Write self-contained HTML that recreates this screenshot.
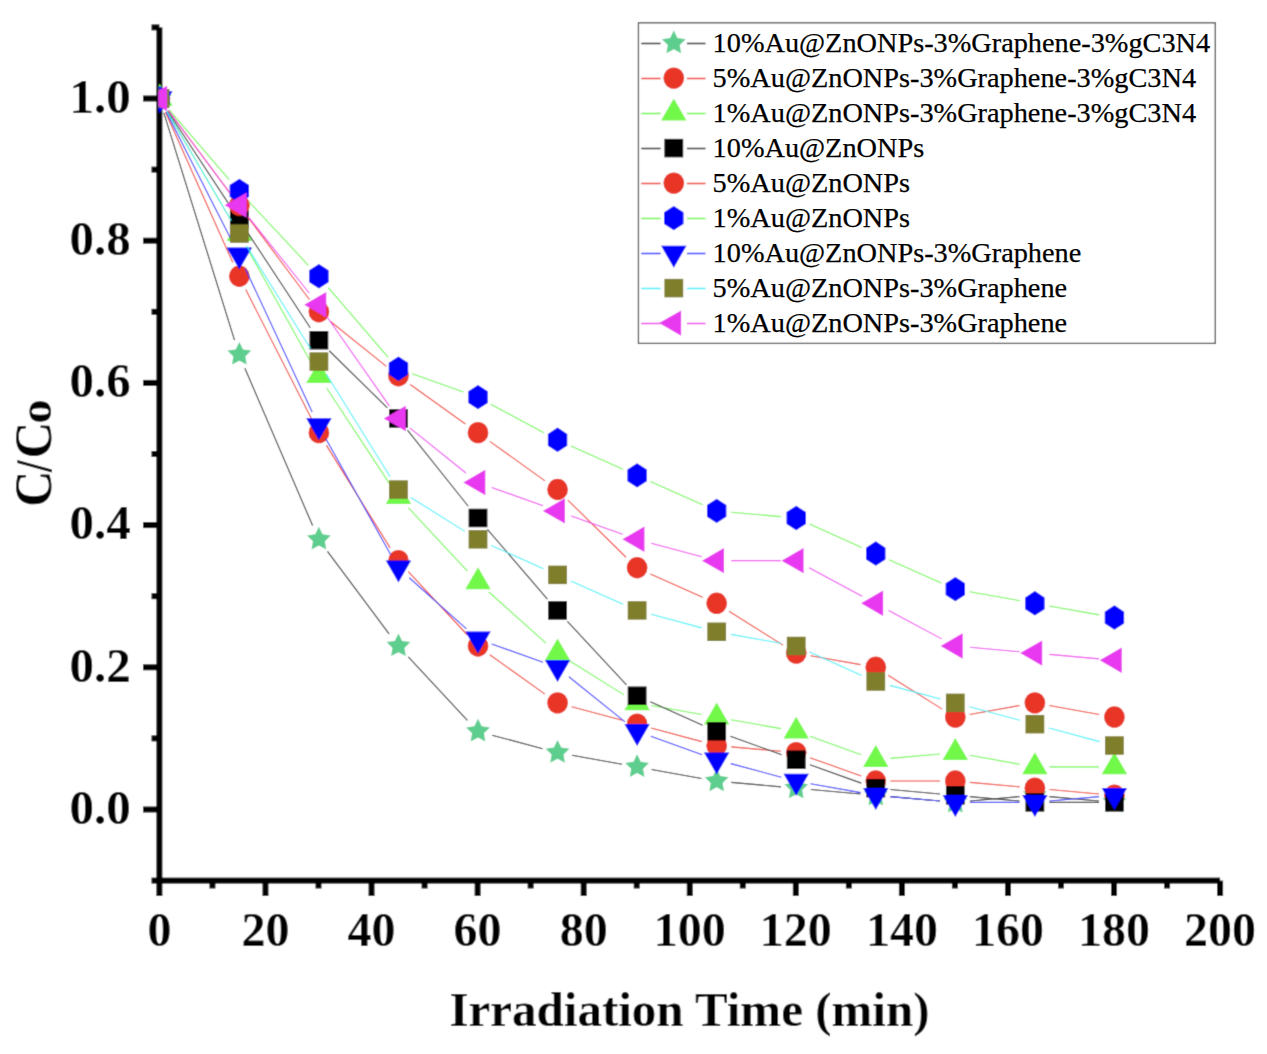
<!DOCTYPE html>
<html><head><meta charset="utf-8"><style>html,body{margin:0;padding:0;background:#fff;width:1267px;height:1054px;overflow:hidden}svg{display:block}</style></head>
<body>
<svg width="1267" height="1054" viewBox="0 0 1267 1054">
<defs><filter id="bl" x="0" y="0" width="1267" height="1054" filterUnits="userSpaceOnUse"><feConvolveMatrix order="3" kernelMatrix="0.0225 0.1050 0.0225 0.1050 0.4900 0.1050 0.0225 0.1050 0.0225" edgeMode="duplicate"/></filter></defs>
<g filter="url(#bl)"><rect width="1267" height="1054" fill="#fff"/>
<g fill="#000">
<rect x="156.4" y="27.4" width="6" height="856.2"/>
<rect x="151.5" y="877.6" width="1068.6" height="6"/>
<rect x="143" y="806.5" width="16.4" height="6"/>
<rect x="143" y="664.3" width="16.4" height="6"/>
<rect x="143" y="522.1" width="16.4" height="6"/>
<rect x="143" y="379.9" width="16.4" height="6"/>
<rect x="143" y="237.7" width="16.4" height="6"/>
<rect x="143" y="95.5" width="16.4" height="6"/>
<rect x="151.5" y="735.4" width="7.9" height="6"/>
<rect x="151.5" y="593.2" width="7.9" height="6"/>
<rect x="151.5" y="451" width="7.9" height="6"/>
<rect x="151.5" y="308.8" width="7.9" height="6"/>
<rect x="151.5" y="166.6" width="7.9" height="6"/>
<rect x="151.5" y="24.4" width="7.9" height="6"/>
<rect x="156.4" y="880.6" width="6" height="15.4"/>
<rect x="262.47" y="880.6" width="6" height="15.4"/>
<rect x="368.54" y="880.6" width="6" height="15.4"/>
<rect x="474.61" y="880.6" width="6" height="15.4"/>
<rect x="580.68" y="880.6" width="6" height="15.4"/>
<rect x="686.75" y="880.6" width="6" height="15.4"/>
<rect x="792.82" y="880.6" width="6" height="15.4"/>
<rect x="898.89" y="880.6" width="6" height="15.4"/>
<rect x="1004.96" y="880.6" width="6" height="15.4"/>
<rect x="1111.03" y="880.6" width="6" height="15.4"/>
<rect x="1217.1" y="880.6" width="6" height="15.4"/>
<rect x="209.44" y="880.6" width="6" height="7.9"/>
<rect x="315.5" y="880.6" width="6" height="7.9"/>
<rect x="421.57" y="880.6" width="6" height="7.9"/>
<rect x="527.64" y="880.6" width="6" height="7.9"/>
<rect x="633.71" y="880.6" width="6" height="7.9"/>
<rect x="739.78" y="880.6" width="6" height="7.9"/>
<rect x="845.85" y="880.6" width="6" height="7.9"/>
<rect x="951.92" y="880.6" width="6" height="7.9"/>
<rect x="1057.99" y="880.6" width="6" height="7.9"/>
<rect x="1164.07" y="880.6" width="6" height="7.9"/>
</g>
<clipPath id="pc"><rect x="158.4" y="0" width="1100" height="877"/></clipPath>
<g clip-path="url(#pc)">
<path d="M163.85 112.82L234.5 340.14M244.88 368.24L312.58 525.54M327.47 551.34L389.09 633.95M408.29 656.94L467.38 720.32M492.1 735.17L542.67 748.74M571.93 755.26L621.95 764.2M651.48 769.48L701.5 778.42M731.21 782.4L780.88 786.83M810.76 789.51L860.43 793.94M890.31 796.62L939.98 801.05M969.87 801.05L1019.54 796.62M1049.42 796.62L1099.09 801.05" stroke="#2a2a2a" stroke-width="1.1" fill="none"/>
<polygon points="159.8,86 163.47,93.44 171.69,94.64 165.74,100.43 167.15,108.61 159.8,104.75 152.45,108.61 153.86,100.43 147.91,94.64 156.13,93.44" fill="#5DCE8E"/>
<polygon points="239.35,341.96 243.03,349.4 251.24,350.6 245.3,356.39 246.7,364.57 239.35,360.71 232.01,364.57 233.41,356.39 227.46,350.6 235.68,349.4" fill="#5DCE8E"/>
<polygon points="318.9,526.82 322.58,534.26 330.79,535.46 324.85,541.25 326.25,549.43 318.9,545.57 311.56,549.43 312.96,541.25 307.02,535.46 315.23,534.26" fill="#5DCE8E"/>
<polygon points="398.46,633.47 402.13,640.91 410.35,642.11 404.4,647.9 405.8,656.08 398.46,652.22 391.11,656.08 392.51,647.9 386.57,642.11 394.78,640.91" fill="#5DCE8E"/>
<polygon points="478.01,718.79 481.68,726.23 489.9,727.43 483.95,733.22 485.36,741.4 478.01,737.54 470.66,741.4 472.07,733.22 466.12,727.43 474.34,726.23" fill="#5DCE8E"/>
<polygon points="557.56,740.12 561.24,747.56 569.45,748.76 563.51,754.55 564.91,762.73 557.56,758.87 550.22,762.73 551.62,754.55 545.67,748.76 553.89,747.56" fill="#5DCE8E"/>
<polygon points="637.11,754.34 640.79,761.78 649,762.98 643.06,768.77 644.46,776.95 637.11,773.09 629.77,776.95 631.17,768.77 625.23,762.98 633.44,761.78" fill="#5DCE8E"/>
<polygon points="716.67,768.56 720.34,776 728.56,777.2 722.61,782.99 724.01,791.17 716.67,787.31 709.32,791.17 710.72,782.99 704.78,777.2 712.99,776" fill="#5DCE8E"/>
<polygon points="796.22,775.67 799.89,783.11 808.11,784.31 802.16,790.1 803.57,798.28 796.22,794.42 788.87,798.28 790.28,790.1 784.33,784.31 792.55,783.11" fill="#5DCE8E"/>
<polygon points="875.77,782.78 879.45,790.22 887.66,791.42 881.72,797.21 883.12,805.39 875.77,801.53 868.43,805.39 869.83,797.21 863.88,791.42 872.1,790.22" fill="#5DCE8E"/>
<polygon points="955.32,789.89 959,797.33 967.21,798.53 961.27,804.32 962.67,812.5 955.32,808.64 947.98,812.5 949.38,804.32 943.44,798.53 951.65,797.33" fill="#5DCE8E"/>
<polygon points="1034.88,782.78 1038.55,790.22 1046.77,791.42 1040.82,797.21 1042.22,805.39 1034.88,801.53 1027.53,805.39 1028.93,797.21 1022.99,791.42 1031.2,790.22" fill="#5DCE8E"/>
<polygon points="1114.43,789.89 1118.1,797.33 1126.32,798.53 1120.37,804.32 1121.78,812.5 1114.43,808.64 1107.08,812.5 1108.49,804.32 1102.54,798.53 1110.76,797.33" fill="#5DCE8E"/>
<path d="M165.53 112.19L232.82 262.56M245.75 289.62L311.71 419.3M326.42 445.41L390.14 547.91M408.29 571.62L467.38 635M489.81 654.69L544.96 694.13M571.65 706.73L622.23 720.3M651.2 728.06L701.78 741.63M731.21 746.85L780.88 751.28M809.94 757.67L861.25 776.01M890.37 781.06L939.92 781.06M969.87 782.4L1019.54 786.83M1049.42 789.51L1099.09 793.94" stroke="#F03A2C" stroke-width="1.1" fill="none"/>
<ellipse cx="159.8" cy="98.5" rx="10.4" ry="10.7" fill="#E83428"/>
<ellipse cx="239.35" cy="276.25" rx="10.4" ry="10.7" fill="#E83428"/>
<ellipse cx="318.9" cy="432.67" rx="10.4" ry="10.7" fill="#E83428"/>
<ellipse cx="398.46" cy="560.65" rx="10.4" ry="10.7" fill="#E83428"/>
<ellipse cx="478.01" cy="645.97" rx="10.4" ry="10.7" fill="#E83428"/>
<ellipse cx="557.56" cy="702.85" rx="10.4" ry="10.7" fill="#E83428"/>
<ellipse cx="637.11" cy="724.18" rx="10.4" ry="10.7" fill="#E83428"/>
<ellipse cx="716.67" cy="745.51" rx="10.4" ry="10.7" fill="#E83428"/>
<ellipse cx="796.22" cy="752.62" rx="10.4" ry="10.7" fill="#E83428"/>
<ellipse cx="875.77" cy="781.06" rx="10.4" ry="10.7" fill="#E83428"/>
<ellipse cx="955.32" cy="781.06" rx="10.4" ry="10.7" fill="#E83428"/>
<ellipse cx="1034.88" cy="788.17" rx="10.4" ry="10.7" fill="#E83428"/>
<ellipse cx="1114.43" cy="795.28" rx="10.4" ry="10.7" fill="#E83428"/>
<path d="M167.01 111.43L231.34 220.66M246.28 246.68L311.18 362.7M326.75 388.32L389.81 484.13M408.29 507.63L467.38 571.01M488.79 591.98L545.98 643.08M569.88 661.04L624 694.89M651.48 705.49L701.5 714.43M731.03 719.71L781.05 728.65M809.94 736.34L861.25 754.68M890.31 758.39L939.98 753.96M969.69 755.26L1019.71 764.2M1049.48 766.84L1099.03 766.84" stroke="#6CF84C" stroke-width="1.1" fill="none"/>
<polygon points="159.8,83.84 172.5,105.83 147.1,105.83" fill="#72F84A"/>
<polygon points="239.35,218.93 252.05,240.92 226.65,240.92" fill="#72F84A"/>
<polygon points="318.9,361.13 331.6,383.12 306.2,383.12" fill="#72F84A"/>
<polygon points="398.46,482 411.16,503.99 385.76,503.99" fill="#72F84A"/>
<polygon points="478.01,567.32 490.71,589.31 465.31,589.31" fill="#72F84A"/>
<polygon points="557.56,638.42 570.26,660.41 544.86,660.41" fill="#72F84A"/>
<polygon points="637.11,688.19 649.81,710.18 624.41,710.18" fill="#72F84A"/>
<polygon points="716.67,702.41 729.37,724.4 703.97,724.4" fill="#72F84A"/>
<polygon points="796.22,716.63 808.92,738.62 783.52,738.62" fill="#72F84A"/>
<polygon points="875.77,745.07 888.47,767.06 863.07,767.06" fill="#72F84A"/>
<polygon points="955.32,737.96 968.02,759.95 942.62,759.95" fill="#72F84A"/>
<polygon points="1034.88,752.18 1047.58,774.17 1022.18,774.17" fill="#72F84A"/>
<polygon points="1114.43,752.18 1127.13,774.17 1101.73,774.17" fill="#72F84A"/>
<path d="M167.65 111.03L230.71 206.84M247.2 231.9L310.26 327.71M329.2 350.76L387.36 407.93M407.42 430.17L468.25 506.27M487.4 529.36L547.38 599.05M567.39 621.39L626.49 684.77M650.41 701.86L702.57 725.17M730.39 736.34L781.7 754.68M809.94 764.78L861.25 783.12M890.31 789.51L939.98 793.94M969.87 796.62L1019.54 801.05M1049.48 802.39L1099.03 802.39" stroke="#2a2a2a" stroke-width="1.1" fill="none"/>
<rect x="150.4" y="89.25" width="18.8" height="18.5" fill="#000000"/>
<rect x="229.95" y="210.12" width="18.8" height="18.5" fill="#000000"/>
<rect x="309.5" y="330.99" width="18.8" height="18.5" fill="#000000"/>
<rect x="389.06" y="409.2" width="18.8" height="18.5" fill="#000000"/>
<rect x="468.61" y="508.74" width="18.8" height="18.5" fill="#000000"/>
<rect x="548.16" y="601.17" width="18.8" height="18.5" fill="#000000"/>
<rect x="627.71" y="686.49" width="18.8" height="18.5" fill="#000000"/>
<rect x="707.27" y="722.04" width="18.8" height="18.5" fill="#000000"/>
<rect x="786.82" y="750.48" width="18.8" height="18.5" fill="#000000"/>
<rect x="866.37" y="778.92" width="18.8" height="18.5" fill="#000000"/>
<rect x="945.92" y="786.03" width="18.8" height="18.5" fill="#000000"/>
<rect x="1025.48" y="793.14" width="18.8" height="18.5" fill="#000000"/>
<rect x="1105.03" y="793.14" width="18.8" height="18.5" fill="#000000"/>
<path d="M168.37 110.52L229.98 193.13M247.92 217.17L309.54 299.78M330.19 321.2L386.37 366.39M410.26 384.51L465.41 423.95M489.81 441.39L544.96 480.83M567.86 500.07L626.02 557.24M650.41 573.88L702.57 597.19M728.98 611.27L783.1 645.12M810.59 655.72L860.61 664.66M888.09 675.26L942.21 709.11M969.69 714.43L1019.71 705.49M1049.24 705.49L1099.26 714.43" stroke="#F03A2C" stroke-width="1.1" fill="none"/>
<ellipse cx="159.8" cy="98.5" rx="10.4" ry="10.7" fill="#E83428"/>
<ellipse cx="239.35" cy="205.15" rx="10.4" ry="10.7" fill="#E83428"/>
<ellipse cx="318.9" cy="311.8" rx="10.4" ry="10.7" fill="#E83428"/>
<ellipse cx="398.46" cy="375.79" rx="10.4" ry="10.7" fill="#E83428"/>
<ellipse cx="478.01" cy="432.67" rx="10.4" ry="10.7" fill="#E83428"/>
<ellipse cx="557.56" cy="489.55" rx="10.4" ry="10.7" fill="#E83428"/>
<ellipse cx="637.11" cy="567.76" rx="10.4" ry="10.7" fill="#E83428"/>
<ellipse cx="716.67" cy="603.31" rx="10.4" ry="10.7" fill="#E83428"/>
<ellipse cx="796.22" cy="653.08" rx="10.4" ry="10.7" fill="#E83428"/>
<ellipse cx="875.77" cy="667.3" rx="10.4" ry="10.7" fill="#E83428"/>
<ellipse cx="955.32" cy="717.07" rx="10.4" ry="10.7" fill="#E83428"/>
<ellipse cx="1034.88" cy="702.85" rx="10.4" ry="10.7" fill="#E83428"/>
<ellipse cx="1114.43" cy="717.07" rx="10.4" ry="10.7" fill="#E83428"/>
<path d="M169.19 109.87L229.17 179.56M249.18 201.9L308.28 265.28M328.29 287.62L388.27 357.31M412.18 373.73L463.49 392.07M490.83 404.21L543.94 432.69M570.86 445.9L623.02 469.21M650.41 481.45L702.57 504.76M731.21 512.22L780.88 516.65M809.51 524.11L861.68 547.42M889.07 559.66L941.23 582.97M969.69 591.73L1019.71 600.67M1049.24 605.95L1099.26 614.89" stroke="#6CF84C" stroke-width="1.1" fill="none"/>
<polygon points="159.8,86.3 169.5,92.6 169.5,104.4 159.8,110.7 150.1,104.4 150.1,92.6" fill="#0000FF"/>
<polygon points="239.35,178.73 249.05,185.03 249.05,196.83 239.35,203.13 229.65,196.83 229.65,185.03" fill="#0000FF"/>
<polygon points="318.9,264.05 328.6,270.35 328.6,282.15 318.9,288.45 309.2,282.15 309.2,270.35" fill="#0000FF"/>
<polygon points="398.46,356.48 408.16,362.78 408.16,374.58 398.46,380.88 388.76,374.58 388.76,362.78" fill="#0000FF"/>
<polygon points="478.01,384.92 487.71,391.22 487.71,403.02 478.01,409.32 468.31,403.02 468.31,391.22" fill="#0000FF"/>
<polygon points="557.56,427.58 567.26,433.88 567.26,445.68 557.56,451.98 547.86,445.68 547.86,433.88" fill="#0000FF"/>
<polygon points="637.11,463.13 646.81,469.43 646.81,481.23 637.11,487.53 627.41,481.23 627.41,469.43" fill="#0000FF"/>
<polygon points="716.67,498.68 726.37,504.98 726.37,516.78 716.67,523.08 706.97,516.78 706.97,504.98" fill="#0000FF"/>
<polygon points="796.22,505.79 805.92,512.09 805.92,523.89 796.22,530.19 786.52,523.89 786.52,512.09" fill="#0000FF"/>
<polygon points="875.77,541.34 885.47,547.64 885.47,559.44 875.77,565.74 866.07,559.44 866.07,547.64" fill="#0000FF"/>
<polygon points="955.32,576.89 965.02,583.19 965.02,594.99 955.32,601.29 945.62,594.99 945.62,583.19" fill="#0000FF"/>
<polygon points="1034.88,591.11 1044.58,597.41 1044.58,609.21 1034.88,615.51 1025.18,609.21 1025.18,597.41" fill="#0000FF"/>
<polygon points="1114.43,605.33 1124.13,611.63 1124.13,623.43 1114.43,629.73 1104.73,623.43 1104.73,611.63" fill="#0000FF"/>
<path d="M166.2 111.87L232.15 241.55M245.29 268.52L312.17 411.96M325.83 438.65L390.73 554.67M409.24 577.76L466.43 628.86M491.73 643.91L543.04 662.25M568.85 676.7L625.03 721.89M650.84 736.34L702.14 754.68M730.76 763.61L781.33 777.18M810.59 783.7L860.61 792.64M890.31 796.62L939.98 801.05M969.92 802.39L1019.48 802.39M1049.42 801.05L1099.09 796.62" stroke="#3030FF" stroke-width="1.1" fill="none"/>
<polygon points="159.8,113.16 147.1,91.17 172.5,91.17" fill="#0000FF"/>
<polygon points="239.35,269.58 226.65,247.59 252.05,247.59" fill="#0000FF"/>
<polygon points="318.9,440.22 306.2,418.23 331.6,418.23" fill="#0000FF"/>
<polygon points="398.46,582.42 385.76,560.43 411.16,560.43" fill="#0000FF"/>
<polygon points="478.01,653.52 465.31,631.53 490.71,631.53" fill="#0000FF"/>
<polygon points="557.56,681.96 544.86,659.97 570.26,659.97" fill="#0000FF"/>
<polygon points="637.11,745.95 624.41,723.96 649.81,723.96" fill="#0000FF"/>
<polygon points="716.67,774.39 703.97,752.4 729.37,752.4" fill="#0000FF"/>
<polygon points="796.22,795.72 783.52,773.73 808.92,773.73" fill="#0000FF"/>
<polygon points="875.77,809.94 863.07,787.95 888.47,787.95" fill="#0000FF"/>
<polygon points="955.32,817.05 942.62,795.06 968.02,795.06" fill="#0000FF"/>
<polygon points="1034.88,817.05 1022.18,795.06 1047.58,795.06" fill="#0000FF"/>
<polygon points="1114.43,809.94 1101.73,787.95 1127.13,787.95" fill="#0000FF"/>
<path d="M167.01 111.43L231.34 220.66M246.87 246.33L310.59 348.83M326.42 374.31L390.14 476.81M410.77 497.51L464.89 531.36M491.3 545.44L543.47 568.75M570.86 580.99L623.02 604.3M651.2 614.3L701.78 627.87M731.03 634.39L781.05 643.33M809.51 652.09L861.68 675.4M889.86 685.4L940.44 698.97M969.41 706.73L1019.99 720.3M1048.97 728.06L1099.54 741.63" stroke="#40F0FA" stroke-width="1.1" fill="none"/>
<rect x="150.4" y="89.25" width="18.8" height="18.5" fill="#7F7E2B"/>
<rect x="229.95" y="224.34" width="18.8" height="18.5" fill="#7F7E2B"/>
<rect x="309.5" y="352.32" width="18.8" height="18.5" fill="#7F7E2B"/>
<rect x="389.06" y="480.3" width="18.8" height="18.5" fill="#7F7E2B"/>
<rect x="468.61" y="530.07" width="18.8" height="18.5" fill="#7F7E2B"/>
<rect x="548.16" y="565.62" width="18.8" height="18.5" fill="#7F7E2B"/>
<rect x="627.71" y="601.17" width="18.8" height="18.5" fill="#7F7E2B"/>
<rect x="707.27" y="622.5" width="18.8" height="18.5" fill="#7F7E2B"/>
<rect x="786.82" y="636.72" width="18.8" height="18.5" fill="#7F7E2B"/>
<rect x="866.37" y="672.27" width="18.8" height="18.5" fill="#7F7E2B"/>
<rect x="945.92" y="693.6" width="18.8" height="18.5" fill="#7F7E2B"/>
<rect x="1025.48" y="714.93" width="18.8" height="18.5" fill="#7F7E2B"/>
<rect x="1105.03" y="736.26" width="18.8" height="18.5" fill="#7F7E2B"/>
<path d="M168.37 110.52L229.98 193.13M248.32 216.87L309.14 292.97M327.1 316.98L389.46 406.16M409.75 427.85L465.92 473.04M491.73 487.49L543.04 505.83M571.29 515.93L622.59 534.27M651.2 543.2L701.78 556.77M731.27 560.65L780.82 560.65M809.04 567.74L862.15 596.22M888.59 610.4L941.71 638.88M969.87 647.31L1019.54 651.74M1049.42 654.42L1099.09 658.85" stroke="#F040F0" stroke-width="1.1" fill="none"/>
<polygon points="145.14,98.5 167.13,85.8 167.13,111.2" fill="#E838F0"/>
<polygon points="224.69,205.15 246.68,192.45 246.68,217.85" fill="#E838F0"/>
<polygon points="304.24,304.69 326.24,291.99 326.24,317.39" fill="#E838F0"/>
<polygon points="383.79,418.45 405.79,405.75 405.79,431.15" fill="#E838F0"/>
<polygon points="463.35,482.44 485.34,469.74 485.34,495.14" fill="#E838F0"/>
<polygon points="542.9,510.88 564.89,498.18 564.89,523.58" fill="#E838F0"/>
<polygon points="622.45,539.32 644.45,526.62 644.45,552.02" fill="#E838F0"/>
<polygon points="702,560.65 724,547.95 724,573.35" fill="#E838F0"/>
<polygon points="781.56,560.65 803.55,547.95 803.55,573.35" fill="#E838F0"/>
<polygon points="861.11,603.31 883.1,590.61 883.1,616.01" fill="#E838F0"/>
<polygon points="940.66,645.97 962.66,633.27 962.66,658.67" fill="#E838F0"/>
<polygon points="1020.21,653.08 1042.21,640.38 1042.21,665.78" fill="#E838F0"/>
<polygon points="1099.77,660.19 1121.76,647.49 1121.76,672.89" fill="#E838F0"/>
</g>
<g font-family="Liberation Serif" font-weight="bold" font-size="48" fill="#000">
<text x="159.4" y="946" text-anchor="middle">0</text>
<text x="265.47" y="946" text-anchor="middle">20</text>
<text x="371.54" y="946" text-anchor="middle">40</text>
<text x="477.61" y="946" text-anchor="middle">60</text>
<text x="583.68" y="946" text-anchor="middle">80</text>
<text x="689.75" y="946" text-anchor="middle">100</text>
<text x="795.82" y="946" text-anchor="middle">120</text>
<text x="901.89" y="946" text-anchor="middle">140</text>
<text x="1007.96" y="946" text-anchor="middle">160</text>
<text x="1114.03" y="946" text-anchor="middle">180</text>
<text x="1220.1" y="946" text-anchor="middle">200</text>
<text x="130.8" y="823.7" text-anchor="end" font-size="49">0.0</text>
<text x="130.8" y="681.5" text-anchor="end" font-size="49">0.2</text>
<text x="130.8" y="539.3" text-anchor="end" font-size="49">0.4</text>
<text x="130.8" y="397.1" text-anchor="end" font-size="49">0.6</text>
<text x="130.8" y="254.9" text-anchor="end" font-size="49">0.8</text>
<text x="130.8" y="112.7" text-anchor="end" font-size="49">1.0</text>
</g>
<polygon points="17.3,459.9 51.9,469.5 51.9,472.5 17.3,462.9" fill="#000"/>
<text x="689.5" y="1026" text-anchor="middle" font-family="Liberation Serif" font-weight="bold" font-size="49">Irradiation Time (min)</text>
<g font-family="Liberation Serif" font-weight="bold" font-size="100">
<text transform="translate(51.3 506.7) rotate(-90) scale(0.5 0.52)">C</text>
<text transform="translate(51.3 458.4) rotate(-90) scale(0.51 0.52)">C</text>
<text transform="translate(51.3 423.6) rotate(-90) scale(0.48 0.47)">o</text>
</g>
<rect x="638.45" y="22.8" width="576.85" height="320.6" fill="#fff" stroke="#3c3c3c" stroke-width="1.25"/>
<path d="M641.3 43.5H660.6M686.9 43.5H705.5" stroke="#2a2a2a" stroke-width="1.35"/>
<polygon points="673.8,30.6 677.47,38.04 685.69,39.24 679.74,45.03 681.15,53.21 673.8,49.35 666.45,53.21 667.86,45.03 661.91,39.24 670.13,38.04" fill="#5DCE8E"/>
<path d="M641.3 78.5H660.6M686.9 78.5H705.5" stroke="#F03A2C" stroke-width="1.35"/>
<ellipse cx="673.8" cy="78.1" rx="10.4" ry="10.7" fill="#E83428"/>
<path d="M641.3 113.5H660.6M686.9 113.5H705.5" stroke="#6CF84C" stroke-width="1.35"/>
<polygon points="673.8,98.44 686.5,120.43 661.1,120.43" fill="#72F84A"/>
<path d="M641.3 148.5H660.6M686.9 148.5H705.5" stroke="#2a2a2a" stroke-width="1.35"/>
<rect x="664.4" y="138.85" width="18.8" height="18.5" fill="#000000"/>
<path d="M641.3 183.5H660.6M686.9 183.5H705.5" stroke="#F03A2C" stroke-width="1.35"/>
<ellipse cx="673.8" cy="183.1" rx="10.4" ry="10.7" fill="#E83428"/>
<path d="M641.3 218.5H660.6M686.9 218.5H705.5" stroke="#6CF84C" stroke-width="1.35"/>
<polygon points="673.8,205.9 683.5,212.2 683.5,224 673.8,230.3 664.1,224 664.1,212.2" fill="#0000FF"/>
<path d="M641.3 253.5H660.6M686.9 253.5H705.5" stroke="#3030FF" stroke-width="1.35"/>
<polygon points="673.8,267.76 661.1,245.77 686.5,245.77" fill="#0000FF"/>
<path d="M641.3 288.5H660.6M686.9 288.5H705.5" stroke="#40F0FA" stroke-width="1.35"/>
<rect x="664.4" y="278.85" width="18.8" height="18.5" fill="#7F7E2B"/>
<path d="M641.3 323.5H660.6M686.9 323.5H705.5" stroke="#F040F0" stroke-width="1.35"/>
<polygon points="659.14,323.1 681.13,310.4 681.13,335.8" fill="#E838F0"/>
</g>
<g font-family="Liberation Serif" font-size="28.3" fill="#000" stroke="#000" stroke-width="0.25"><text x="712.6" y="52.4">10%Au@ZnONPs-3%Graphene-3%gC3N4</text>
<text x="712.6" y="87.4">5%Au@ZnONPs-3%Graphene-3%gC3N4</text>
<text x="712.6" y="122.4">1%Au@ZnONPs-3%Graphene-3%gC3N4</text>
<text x="712.6" y="157.4">10%Au@ZnONPs</text>
<text x="712.6" y="192.4">5%Au@ZnONPs</text>
<text x="712.6" y="227.4">1%Au@ZnONPs</text>
<text x="712.6" y="262.4">10%Au@ZnONPs-3%Graphene</text>
<text x="712.6" y="297.4">5%Au@ZnONPs-3%Graphene</text>
<text x="712.6" y="332.4">1%Au@ZnONPs-3%Graphene</text></g></svg>
</body></html>
